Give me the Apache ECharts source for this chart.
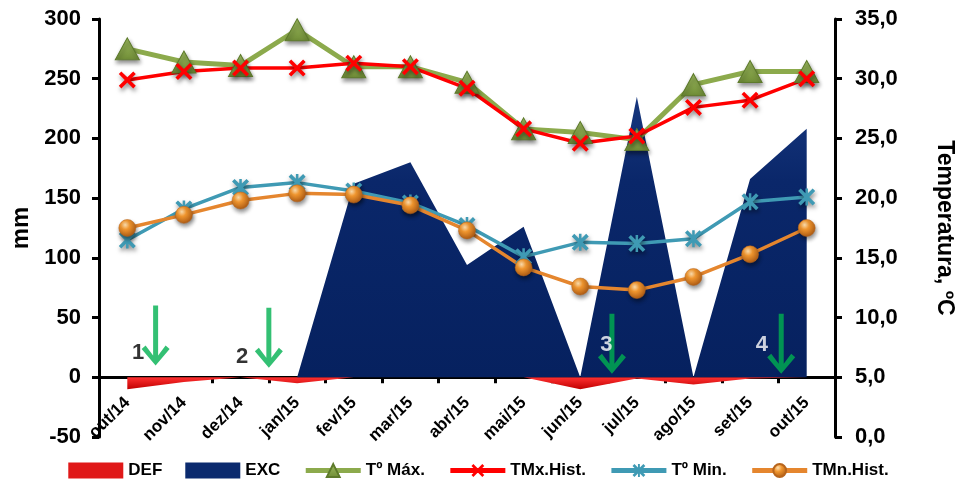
<!DOCTYPE html>
<html><head><meta charset="utf-8">
<script src="https://cdn.jsdelivr.net/npm/echarts@6/dist/echarts.min.js"></script>
<style>html,body{margin:0;padding:0;background:#fff}#c{width:957px;height:490px}</style>
</head><body><div id="c"></div>
<script>
// ---- data ----
const categories = ['out/14','nov/14','dez/14','jan/15','fev/15','mar/15','abr/15','mai/15','jun/15','jul/15','ago/15','set/15','out/15'];
const DEF = [-10,-4,0,-5,0,0,0,0,-10,-1,-6,-1,0];
const EXC = [0,0,0,0,162,180,94,126,0,235,0,166,208];
const TMax = [32.5,31.4,31.1,34.1,31.0,31.0,29.7,25.8,25.5,24.9,29.5,30.6,30.6];
const TMxHist = [29.9,30.6,30.9,30.9,31.3,31.0,29.2,25.8,24.6,25.2,27.6,28.2,30.0];
const TMin = [16.5,19.1,20.9,21.3,20.6,19.6,17.7,15.1,16.3,16.2,16.6,19.7,20.1];
const TMnHist = [17.5,18.6,19.8,20.4,20.3,19.4,17.3,14.2,12.6,12.3,13.4,15.3,17.5];
const mmTicks = {min:-50, max:300, interval:50};
const tempTicks = {min:0, max:35, interval:5};
// annotations: arrows near category boundaries (x in category units), numbered labels
const arrowPos = [[1,35],[3,33],[9.06,28],[12.05,28]];
const arrowLabels = [
  {value:[0.69,20], name:'1', color:'#000'},
  {value:[2.53,17], name:'2', color:'#000'},
  {value:[8.96,27], name:'3', color:'#fff'},
  {value:[11.71,27], name:'4', color:'#fff'}
];

const FONT = '"Liberation Sans", Arial, sans-serif';
const xSym = 'path://M0,3 L3,0 L10,7 L17,0 L20,3 L13,10 L20,17 L17,20 L10,13 L3,20 L0,17 L7,10 Z';
const starSym = 'path://M0,3 L3,0 L10,7 L17,0 L20,3 L13,10 L20,17 L17,20 L10,13 L3,20 L0,17 L7,10 Z M8.5,0 L11.5,0 L11.5,20 L8.5,20 Z';
const arrowSym = 'path://M11.5,0 L16.5,0 L16.5,50 L24,40 L28,43.5 L14,60 L0,43.5 L4,40 L11.5,50 Z';
const shadow = {shadowBlur:4, shadowColor:'rgba(0,0,0,0.45)', shadowOffsetX:1, shadowOffsetY:3};

const chart = echarts.init(document.getElementById('c'));
chart.setOption({
  animation:false,
  textStyle:{fontFamily:FONT},
  grid:{left:99, right:122, top:19, bottom:53, containLabel:false, outerBoundsMode:'none'},
  legend:{
    bottom:6, left:'center', itemGap:23, itemWidth:55, itemHeight:16,
    lineStyle:{width:5},
    textStyle:{fontFamily:FONT, fontWeight:'bold', fontSize:17, color:'#000'},
    data:[
      {name:'DEF', icon:'rect'},
      {name:'EXC', icon:'rect'},
      'Tº Máx.','TMx.Hist.','Tº Min.','TMn.Hist.'
    ]
  },
  xAxis:[{
    type:'category', data:categories, boundaryGap:true,
    axisLine:{onZero:true, lineStyle:{color:'#000', width:3}},
    axisTick:{show:true, length:6, lineStyle:{color:'#000', width:3}},
    axisLabel:{rotate:45, margin:-37, color:'#000', fontWeight:'bold', fontSize:17, fontFamily:FONT, interval:0},
    splitLine:{show:false}
  },{
    type:'value', min:0, max:13, show:false
  }],
  yAxis:[{
    type:'value', min:mmTicks.min, max:mmTicks.max, interval:mmTicks.interval,
    name:'mm', nameLocation:'middle', nameGap:62,
    nameTextStyle:{fontFamily:FONT, fontWeight:'bold', fontSize:24, color:'#000'},
    axisLine:{show:true, lineStyle:{color:'#000', width:3}},
    axisTick:{show:true, length:7, lineStyle:{color:'#000', width:3}},
    axisLabel:{color:'#000', fontWeight:'bold', fontSize:22, fontFamily:FONT, margin:18},
    splitLine:{show:false}
  },{
    type:'value', position:'right', min:tempTicks.min, max:tempTicks.max, interval:tempTicks.interval,
    name:'Temperatura, ºC', nameLocation:'middle', nameGap:98, nameRotate:-90,
    nameTextStyle:{fontFamily:FONT, fontWeight:'bold', fontSize:23, color:'#000'},
    axisLine:{show:true, lineStyle:{color:'#000', width:3}},
    axisTick:{show:true, length:7, lineStyle:{color:'#000', width:3}},
    axisLabel:{color:'#000', fontWeight:'bold', fontSize:22, fontFamily:FONT, margin:20,
      formatter:v=>v.toFixed(1).replace('.',',')},
    splitLine:{show:false}
  }],
  series:[
    {name:'DEF', type:'line', data:DEF, symbol:'none', showSymbol:false,
     lineStyle:{width:0}, itemStyle:{color:'#e01818'},
     areaStyle:{color:new echarts.graphic.LinearGradient(0,0,0,1,[{offset:0,color:'#ff3030'},{offset:1,color:'#c00000'}]), opacity:1}},
    {name:'EXC', type:'line', data:EXC, symbol:'none', showSymbol:false,
     lineStyle:{width:0}, itemStyle:{color:'#0b2a6e'},
     areaStyle:{color:new echarts.graphic.LinearGradient(0,0,0,1,[{offset:0,color:'#17377e'},{offset:0.3,color:'#0a276a'},{offset:1,color:'#06215f'}]), opacity:1}},
    {name:'Tº Máx.', type:'line', yAxisIndex:1, data:TMax, symbol:'triangle', symbolSize:[24,22],
     lineStyle:{color:'#8caa4c', width:5},
     itemStyle:Object.assign({color:new echarts.graphic.LinearGradient(0,0,0,1,[{offset:0,color:'#9fbd60'},{offset:1,color:'#6f8c36'}]), borderColor:'#5d7a2b', borderWidth:1}, shadow)},
    {name:'TMx.Hist.', type:'line', yAxisIndex:1, data:TMxHist, symbol:xSym, symbolSize:17,
     lineStyle:{color:'#ff0000', width:3.5},
     itemStyle:Object.assign({color:'#ff0000'}, shadow)},
    {name:'Tº Min.', type:'line', yAxisIndex:1, data:TMin, symbol:starSym, symbolSize:17,
     lineStyle:{color:'#3f9ab4', width:3.5},
     itemStyle:Object.assign({color:'#3f9ab4'}, shadow)},
    {name:'TMn.Hist.', type:'line', yAxisIndex:1, data:TMnHist, symbol:'circle', symbolSize:17,
     lineStyle:{color:'#e5862e', width:3.5},
     itemStyle:Object.assign({color:{type:'radial', x:0.38, y:0.32, r:0.75, colorStops:[{offset:0,color:'#ffe0b0'},{offset:0.35,color:'#f0962f'},{offset:1,color:'#a45310'}]}, borderColor:'#b8651c', borderWidth:0.5}, shadow)},
    {name:'arrows', type:'scatter', xAxisIndex:1, yAxisIndex:0, data:arrowPos,
     symbol:arrowSym, symbolSize:[28,60], itemStyle:{color:'#00b050'}, z:5, silent:true},
    {name:'nums', type:'scatter', xAxisIndex:1, yAxisIndex:0, symbolSize:0, z:6, silent:true,
     data:arrowLabels.map(d=>({value:d.value, name:d.name,
       label:{show:true, position:'inside', formatter:d.name, color:d.color, fontSize:22, fontWeight:'bold', fontFamily:FONT}}))}
  ]
});
</script>
</body></html>
